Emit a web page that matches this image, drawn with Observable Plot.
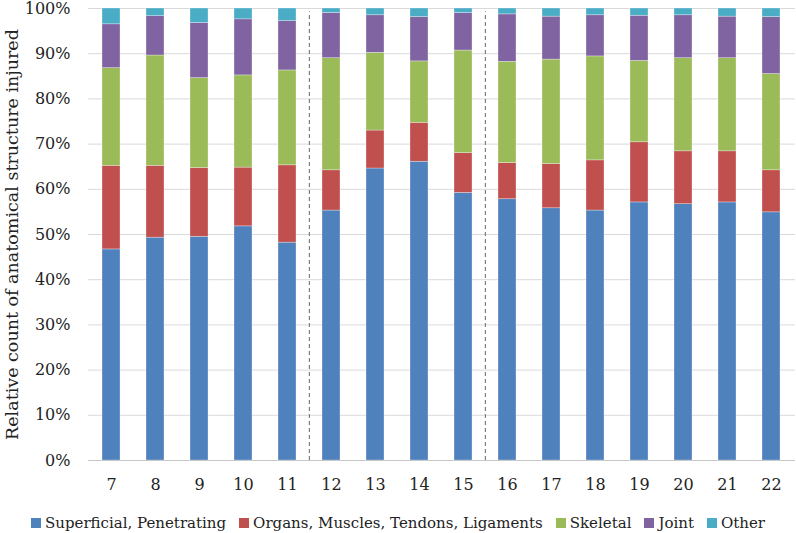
<!DOCTYPE html>
<html>
<head>
<meta charset="utf-8">
<script src="https://cdn.jsdelivr.net/npm/d3@7"></script>
<script src="https://cdn.jsdelivr.net/npm/@observablehq/plot@0.6"></script>
<style>
  html, body { margin: 0; padding: 0; background: #fff; }
  body { width: 796px; height: 533px; overflow: hidden; font-family: "DejaVu Serif", serif; }
  #legend { display: flex; justify-content: center; align-items: center; gap: 13px; font-size: 15px; color: #222; height: 24px; margin-top: 11px; }
  #legend .item { display: flex; align-items: center; gap: 4px; }
  #legend .sw { width: 10px; height: 10px; display: inline-block; }
</style>
</head>
<body>
<div id="chart"></div>
<div id="legend"></div>
<script>
const categories = ["7","8","9","10","11","12","13","14","15","16","17","18","19","20","21","22"];
const seriesNames = ["Superficial, Penetrating", "Organs, Muscles, Tendons, Ligaments", "Skeletal", "Joint", "Other"];
const seriesColors = ["#4F81BD", "#C0504D", "#9BBB59", "#8064A2", "#4BACC6"];
const superficial = [46.7, 49.3, 49.5, 51.8, 48.2, 55.3, 64.6, 66.1, 59.2, 57.8, 55.8, 55.3, 57.1, 56.7, 57.1, 54.9];
const organs      = [18.5, 15.9, 15.2, 13.0, 17.1,  8.9,  8.4,  8.6,  8.8,  8.0,  9.8, 11.1, 13.3, 11.7, 11.3,  9.3];
const skeletal    = [21.6, 24.4, 19.9, 20.4, 21.0, 24.8, 17.2, 13.6, 22.7, 22.4, 23.1, 23.0, 18.0, 20.6, 20.6, 21.3];
const joint       = [ 9.7,  8.7, 12.2, 12.4, 10.9, 10.0,  8.3,  9.8,  8.3, 10.5,  9.5,  9.1, 10.0,  9.5,  9.2, 12.6];
const other       = [ 3.5,  1.7,  3.2,  2.4,  2.8,  1.0,  1.5,  1.9,  1.0,  1.3,  1.8,  1.5,  1.6,  1.5,  1.8,  1.9];
const yTicks = [0, 0.1, 0.2, 0.3, 0.4, 0.5, 0.6, 0.7, 0.8, 0.9, 1.0];
const separators = ["12", "16"];
const yTitle = "Relative count of anatomical structure injured";

const seriesValues = [superficial, organs, skeletal, joint, other];
const rows = [];
seriesNames.forEach((s, si) => {
  categories.forEach((c, ci) => {
    rows.push({cat: c, series: s, value: seriesValues[si][ci] / 100});
  });
});

const W = 796, H = 500, mL = 88, mR = 1, mT = 8, mB = 40;
const step = (W - mL - mR) / categories.length;

const chart = Plot.plot({
  width: W, height: H,
  marginLeft: mL, marginRight: mR, marginTop: mT, marginBottom: mB,
  style: {fontFamily: "'DejaVu Serif', serif", fontSize: "16px", color: "#222", background: "#fff", overflow: "visible"},
  x: {type: "band", domain: categories, paddingInner: 0.59, paddingOuter: 0.295, label: null},
  y: {domain: [0, 1], label: null},
  color: {domain: seriesNames, range: seriesColors},
  marks: [
    Plot.gridY(yTicks, {stroke: "#d9d9d9", strokeOpacity: 1, strokeWidth: 1}),
    Plot.barY(rows, {x: "cat", y: "value", fill: "series", stroke: "#ffffff", strokeWidth: 0.6, strokeOpacity: 0.5}),
    Plot.ruleY([0], {stroke: "#c8c8c8", strokeWidth: 1}),
    Plot.ruleX(separators, {x: d => d, y1: 0, y2: 0.993, dx: -step / 2, stroke: "#7f7f7f", strokeWidth: 1.2, strokeDasharray: "4,3"}),
    Plot.axisY(yTicks, {tickSize: 0, tickPadding: 18, tickFormat: d => Math.round(d * 100) + "%", label: null, fontSize: 16}),
    Plot.axisX({tickSize: 0, tickPadding: 18, label: null, fontSize: 16}),
    Plot.text([yTitle], {frameAnchor: "left", rotate: -90, textAnchor: "middle", dx: -76, dy: 0, fontSize: 17.5, fill: "#222"})
  ]
});
document.getElementById("chart").appendChild(chart);

const legend = document.getElementById("legend");
seriesNames.forEach((s, i) => {
  const item = document.createElement("div");
  item.className = "item";
  const sw = document.createElement("span");
  sw.className = "sw";
  sw.style.background = seriesColors[i];
  const t = document.createElement("span");
  t.textContent = s;
  item.appendChild(sw);
  item.appendChild(t);
  legend.appendChild(item);
});
</script>
</body>
</html>
